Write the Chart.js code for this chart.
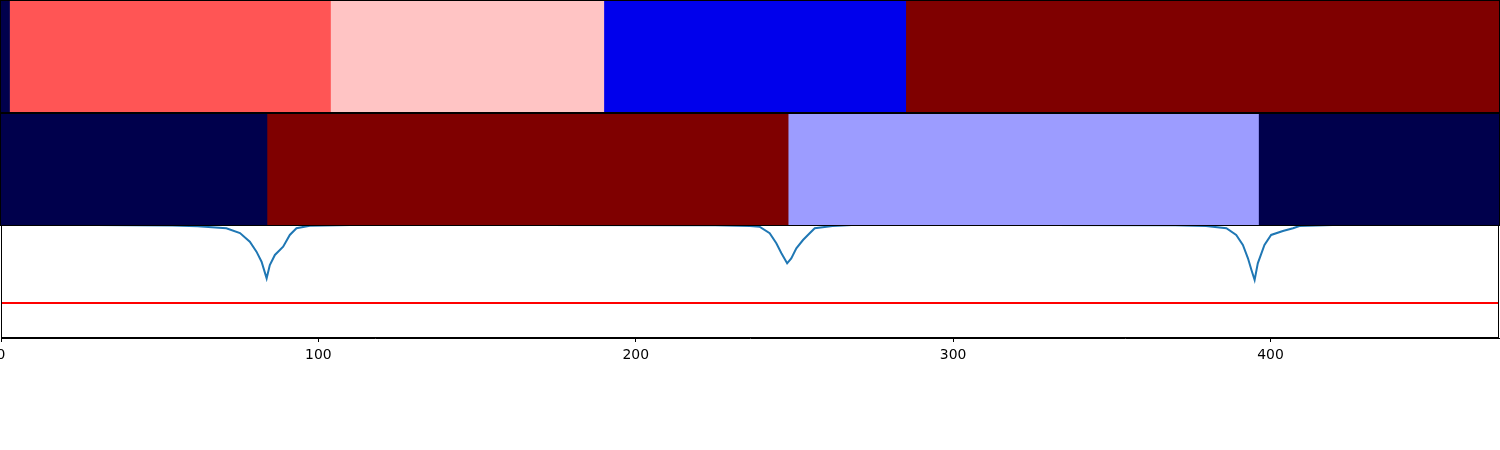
<!DOCTYPE html>
<html>
<head>
<meta charset="utf-8">
<script src="https://cdn.jsdelivr.net/npm/chart.js@4"></script>
<style>
  body { margin: 0; background: #fff; }
  #wrap { position: relative; width: 1500px; height: 450px; overflow: hidden; }
  canvas { position: absolute; left: 0; }
</style>
</head>
<body>
<div id="wrap">
  <canvas id="rowTop" width="1500" height="113" style="top:0px"></canvas>
  <canvas id="rowMid" width="1500" height="113" style="top:113px"></canvas>
  <canvas id="rowLine" width="1500" height="225" style="top:225px"></canvas>
</div>
<script>
// x range shared by all three panels
const xMin = 0;
const xMax = 472;
const xTicks = [0, 100, 200, 300, 400];

// top strip: segment edges and colours
const topEdges = [0, 3, 104, 190, 285, 472];
const topColors = ['#00004c', '#ff5555', '#ffc4c4', '#0000ec', '#7f0000'];

// middle strip
const midEdges = [0, 84, 248, 396, 472];
const midColors = ['#00004c', '#7f0000', '#9c9cff', '#00004c'];

// bottom panel: blue curve and red threshold
const lineX = [0, 30, 54, 62, 71, 75.3, 78.4, 80.5, 82.1, 83.7, 84.7, 86.3, 88.9, 91.0, 93.1, 97.3, 110,
  170, 225, 236, 239, 242.2, 244.3, 245.9, 247.7, 249, 250.6, 252.7, 254.8, 256.4, 262, 268,
  330, 370, 379.7, 386.1, 389.2, 391.3, 392.9, 394, 395, 396, 398.1, 400.2, 403.9, 407.1, 409.1, 419.5, 472];
const lineY = [1.0, 1.0, 0.995, 0.99, 0.971, 0.929, 0.852, 0.764, 0.675, 0.528, 0.646, 0.735, 0.808, 0.912, 0.971, 0.994, 1.0,
  1.0, 0.998, 0.991, 0.985, 0.927, 0.838, 0.75, 0.661, 0.705, 0.794, 0.867, 0.927, 0.971, 0.991, 1.0,
  1.0, 0.998, 0.991, 0.971, 0.912, 0.823, 0.705, 0.602, 0.513, 0.661, 0.823, 0.912, 0.947, 0.971, 0.991, 1.0, 1.0];
const threshold = 0.31;

// draws the black frame round each panel
const framePlugin = {
  id: 'frame',
  afterDraw(chart) {
    const a = chart.chartArea;
    const ctx = chart.ctx;
    ctx.save();
    ctx.strokeStyle = '#000';
    ctx.lineWidth = 1;
    ctx.strokeRect(Math.round(a.left) + 0.5, Math.round(a.top) + 0.5,
      Math.round(a.right - a.left) - 1, Math.round(a.bottom - a.top) - 1);
    ctx.restore();
  }
};

function stripChart(id, edges, colors) {
  const datasets = colors.map((c, i) => ({
    data: [[edges[i], edges[i + 1]]],
    backgroundColor: c,
    borderWidth: 0,
    barPercentage: 1,
    categoryPercentage: 1,
    grouped: false
  }));
  new Chart(document.getElementById(id), {
    type: 'bar',
    data: { labels: ['row'], datasets: datasets },
    options: {
      indexAxis: 'y',
      responsive: false,
      animation: false,
      layout: { padding: { left: 0, right: 0, top: 0, bottom: 0 } },
      plugins: { legend: { display: false }, tooltip: { enabled: false } },
      scales: {
        x: { type: 'linear', min: xMin, max: xMax, display: false },
        y: { display: false }
      }
    },
    plugins: [framePlugin]
  });
}

stripChart('rowTop', topEdges, topColors);
stripChart('rowMid', midEdges, midColors);

new Chart(document.getElementById('rowLine'), {
  type: 'line',
  data: {
    datasets: [
      {
        data: lineX.map((x, i) => ({ x: x, y: lineY[i] })),
        borderColor: '#1f77b4',
        borderWidth: 2,
        pointRadius: 0,
        tension: 0
      },
      {
        data: [{ x: xMin, y: threshold }, { x: xMax, y: threshold }],
        borderColor: '#ff0000',
        borderWidth: 2,
        pointRadius: 0
      }
    ]
  },
  options: {
    responsive: false,
    animation: false,
    layout: { padding: { left: 1, right: 1, top: 0, bottom: 0 } },
    plugins: { legend: { display: false }, tooltip: { enabled: false } },
    scales: {
      x: {
        type: 'linear',
        min: xMin,
        max: xMax,
        afterBuildTicks(scale) {
          scale.ticks = xTicks.map(v => ({ value: v }));
        },
        afterFit(scale) {
          scale.height = 112;
          scale.paddingLeft = 0;
          scale.paddingRight = 0;
        },
        grid: { drawOnChartArea: false, drawTicks: true, tickLength: 4, color: '#000' },
        border: { display: true, color: '#000', width: 1 },
        ticks: {
          color: '#000',
          padding: 5,
          maxRotation: 0,
          autoSkip: false,
          font: { family: 'DejaVu Sans', size: 13.9 }
        }
      },
      y: { min: 0, max: 1, display: false }
    }
  },
  plugins: [framePlugin]
});
</script>
</body>
</html>
